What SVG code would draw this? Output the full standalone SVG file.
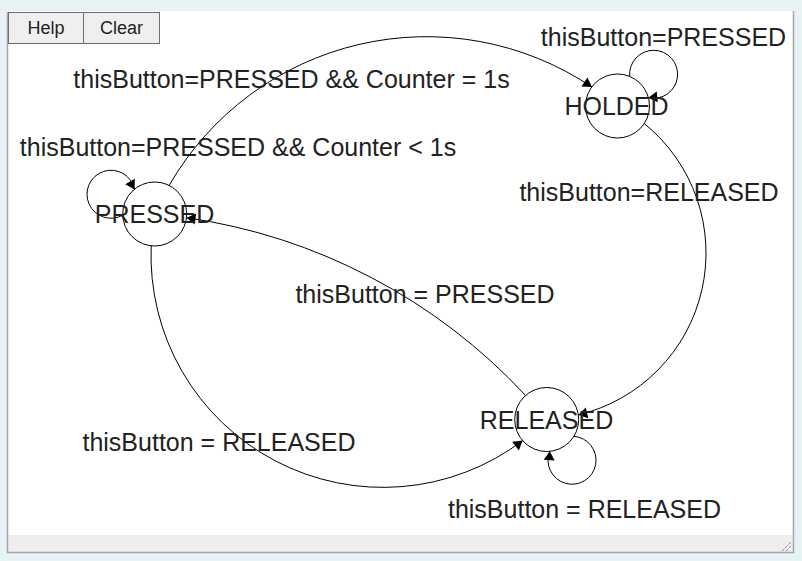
<svg xmlns="http://www.w3.org/2000/svg" width="802" height="561" viewBox="0 0 802 561">
<style>
.bg{fill:#e7f2f4}
.panel{fill:#ffffff}
.border{stroke:#a6a6a6;stroke-width:1.5;fill:none}
.btn{fill:#efefef;stroke:#6e6e6e;stroke-width:1}
.btxt{font-family:"Liberation Sans",Arial,sans-serif;font-size:18px;fill:#222;text-anchor:middle}
.node{fill:none;stroke:#000;stroke-width:1}
.lbl{font-family:"Liberation Sans",Arial,sans-serif;font-size:25px;fill:#222;text-anchor:middle}
.edge{fill:none;stroke:#000;stroke-width:1}
.head{fill:#000;stroke:none}
</style>
<rect class="bg" x="0" y="0" width="802" height="561"/>
<rect class="panel" x="7" y="11" width="787" height="542"/>
<rect x="8" y="535" width="785" height="17" fill="#eeeeee"/>
<path class="border" d="M7.5 12 V552.5 H793.5 V11"/>
<g stroke="#555" stroke-width="1" stroke-dasharray="1,1">
<line x1="782" y1="551" x2="791" y2="542"/>
<line x1="786" y1="551" x2="791" y2="546"/>
</g>
<g id="btn-help"><rect class="btn" x="8.5" y="12.5" width="75" height="31"/><text class="btxt" x="46" y="34">Help</text></g>
<g id="btn-clear"><rect class="btn" x="83.5" y="12.5" width="76" height="31"/><text class="btxt" x="121.5" y="34">Clear</text></g>

<g id="connectors">
<path class="edge" d="M 169.1 185.5 A 297 297 0 0 1 591.9 87.0"/>
<polygon class="head" points="591.9,87 581.36,86.56 587.48,77.42"/>
<path class="edge" d="M 644.2 123.5 A 166.5 166.5 0 0 1 578.3 414.9"/>
<polygon class="head" points="578.3,414.9 585.77,407.45 588.33,418.15"/>
<path class="edge" d="M 525.6 395.5 A 575 575 0 0 0 186.5 217.7"/>
<polygon class="head" points="186.5,217.7 196.2,213.55 194.62,224.43"/>
<path class="edge" d="M 151.2 245.8 A 232 232 0 0 0 522.7 440.6"/>
<polygon class="head" points="522.7,440.6 518.82,450.41 512.2,441.63"/>
<path class="edge" d="M 629.7 76.5 A 24 24 0 1 1 648.3 97.7"/>
<polygon class="head" points="648.3,97.7 656.75,91.39 657.77,102.35"/>
<path class="edge" d="M 122.9 215.1 A 24 24 0 1 1 134.5 189.4"/>
<polygon class="head" points="134.5,189.4 125.27,184.29 134.83,178.85"/>
<path class="edge" d="M 573.8 436.3 A 24 24 0 1 1 549.8 451.2"/>
<polygon class="head" points="549.8,451.2 554.66,460.56 543.68,459.8"/>
<text class="lbl" x="291.5" y="88">thisButton=PRESSED &amp;&amp; Counter = 1s</text>
<text class="lbl" x="663.5" y="46">thisButton=PRESSED</text>
<text class="lbl" x="238" y="156">thisButton=PRESSED &amp;&amp; Counter &lt; 1s</text>
<text class="lbl" x="649" y="201">thisButton=RELEASED</text>
<text class="lbl" x="425" y="303">thisButton = PRESSED</text>
<text class="lbl" x="219" y="451">thisButton = RELEASED</text>
<text class="lbl" x="584.5" y="518">thisButton = RELEASED</text>
</g>

<g id="node-holded"><circle class="node" cx="617.5" cy="106" r="32"/><text class="lbl" x="616.5" y="115">HOLDED</text></g>
<g id="node-pressed"><circle class="node" cx="154.7" cy="214" r="32"/><text class="lbl" x="154.5" y="223">PRESSED</text></g>
<g id="node-released"><circle class="node" cx="546.7" cy="419.5" r="32"/><text class="lbl" x="546.5" y="429">RELEASED</text></g>
</svg>
